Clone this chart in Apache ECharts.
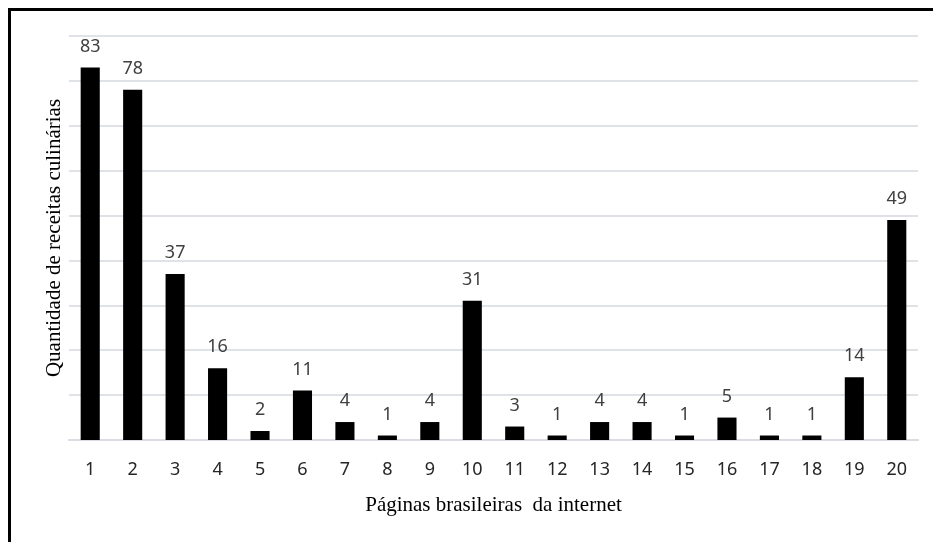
<!DOCTYPE html>
<html>
<head>
<meta charset="utf-8">
<script src="https://cdn.jsdelivr.net/npm/echarts@6/dist/echarts.min.js"></script>
<style>
  html, body { margin: 0; padding: 0; background: #fff; }
</style>
</head>
<body>
<div id="main" style="width:933px;height:542px"></div>
<script>
// páginas (categorias) e quantidade de receitas
var paginas = ['1', '2', '3', '4', '5', '6', '7', '8', '9', '10',
  '11', '12', '13', '14', '15', '16', '17', '18', '19', '20']
var receitas = [83, 78, 37, 16, 2, 11, 4, 1, 4, 31, 3, 1, 4, 4, 1, 5, 1, 1, 14, 49]

var myChart = echarts.init(document.getElementById('main'))

var option = {
  backgroundColor: '#fff',
  animation: false,
  // moldura: só em cima e à esquerda
  graphic: [
    { type: 'rect', left: 8, top: 8, shape: { width: 925, height: 3 }, style: { fill: '#000' } },
    { type: 'rect', left: 8, top: 8, shape: { width: 3, height: 534 }, style: { fill: '#000' } }
  ],
  grid: {
    left: 69,
    right: 15,
    top: 36,
    bottom: 102
  },
  xAxis: {
    type: 'category',
    data: paginas,
    name: 'Páginas brasileiras  da internet',
    nameLocation: 'middle',
    nameGap: 55,
    nameTextStyle: {
      fontFamily: 'Liberation Serif',
      fontSize: 21,
      color: '#000'
    },
    axisLine: { lineStyle: { color: '#d9dde3', width: 2 } },
    axisTick: { show: false },
    axisLabel: {
      margin: 21,
      fontFamily: 'Noto Sans',
      fontSize: 18,
      color: '#262626'
    }
  },
  yAxis: {
    type: 'value',
    min: 0,
    max: 90,
    interval: 10,
    name: 'Quantidade de receitas culinárias',
    nameLocation: 'middle',
    nameGap: 4,
    nameTextStyle: {
      fontFamily: 'Liberation Serif',
      fontSize: 21,
      color: '#000'
    },
    axisLine: { show: false },
    axisTick: { show: false },
    axisLabel: { show: false },
    splitLine: { lineStyle: { color: '#dfe3e8', width: 2 } }
  },
  series: [
    {
      type: 'bar',
      data: receitas,
      barWidth: '45%',
      itemStyle: { color: '#000' },
      label: {
        show: true,
        position: 'top',
        distance: 12,
        fontFamily: 'Noto Sans',
        fontSize: 18,
        color: '#404040'
      }
    }
  ]
}
myChart.setOption(option)
</script>
</body>
</html>
